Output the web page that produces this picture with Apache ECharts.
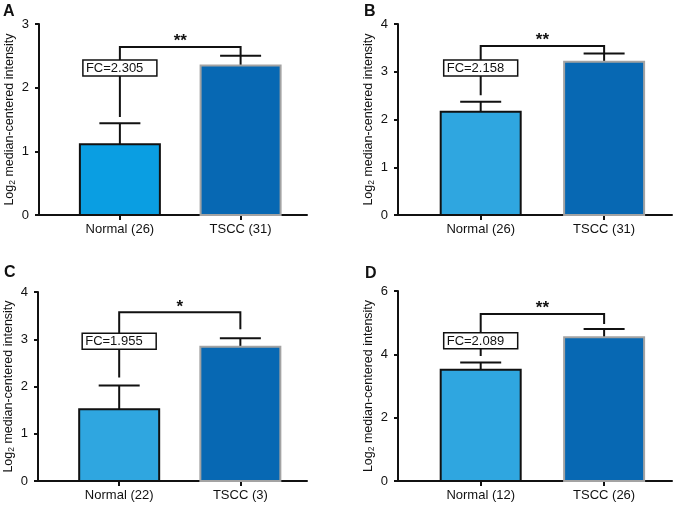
<!DOCTYPE html>
<html>
<head>
<meta charset="utf-8">
<script src="https://cdn.jsdelivr.net/npm/echarts@6/dist/echarts.min.js"></script>
<style>
  html, body { margin: 0; padding: 0; background: #fff; }
  #chart { width: 677px; height: 509px; }
</style>
</head>
<body>
<div id="chart"></div>
<script>
// data
const categories = ['Normal', 'TSCC']
const panelLetters = ['A', 'B', 'C', 'D']
const sampleSizes = [[26, 31], [26, 31], [22, 3], [12, 26]]
const meanValues = [[1.11, 2.35], [2.16, 3.21], [1.52, 2.84], [3.51, 4.54]]
const errorTops = [[1.44, 2.50], [2.37, 3.38], [2.02, 3.02], [3.74, 4.80]]
const bracketLevels = [2.64, 3.54, 3.57, 5.27]
const bracketLeftEnds = [1.54, 2.51, 2.19, 3.95]
const bracketRightEnds = [2.50, 3.38, 3.21, 4.96]
const fcLabels = ['FC=2.305', 'FC=2.158', 'FC=1.955', 'FC=2.089']
const fcLabelLevels = [2.31, 3.08, 2.96, 4.43]
const starLabels = ['**', '**', '*', '**']
const yMaxValues = [3, 4, 4, 6]
const yIntervals = [1, 1, 1, 2]

const FONT = 'Liberation Sans, Arial, sans-serif'
const grids = [
  { left : 39, top : 24, width : 268, height : 191 },
  { left : 398, top : 24, width : 274, height : 191 },
  { left : 38, top : 292, width : 269, height : 189 },
  { left : 398, top : 291, width : 274, height : 190 }
]
const letterPos = [[3, 4], [364, 4], [4, 265], [365, 266]]
const normalFill = ['#0a9ee2', '#2fa6e0', '#2fa6e0', '#2fa6e0']
const tsccFill = '#0768b3'

const chart = echarts.init( document.getElementById( 'chart' ), null, { renderer : 'canvas' } )

const makeBarRenderer = p => ( params, api ) => {
  const x = api.value( 0 )
  const base = api.coord( [x, 0] )
  const head = api.coord( [x, api.value( 1 )] )
  const errHead = api.coord( [x, api.value( 2 )] )
  const isNormal = params.dataIndex === 0
  return {
    type : 'group',
    children : [
      {
        type : 'line',
        shape : { x1 : head[0], y1 : head[1], x2 : errHead[0], y2 : errHead[1] },
        style : { stroke : '#111', lineWidth : 2 }
      },
      {
        type : 'line',
        shape : { x1 : errHead[0] - 20.5, y1 : errHead[1], x2 : errHead[0] + 20.5, y2 : errHead[1] },
        style : { stroke : '#111', lineWidth : 2 }
      },
      {
        type : 'rect',
        shape : { x : head[0] - 40, y : head[1], width : 80, height : base[1] - head[1] },
        style : {
          fill : isNormal ? normalFill[p] : tsccFill,
          stroke : isNormal ? '#111' : '#a3a3a3',
          lineWidth : 2
        }
      }
    ]
  }
}

const makeBracketRenderer = p => ( params, api ) => {
  const top = api.coord( [1, api.value( 0 )] )
  const topR = api.coord( [2, api.value( 0 )] )
  const leftEnd = api.coord( [1, api.value( 1 )] )
  const rightEnd = api.coord( [2, api.value( 2 )] )
  const fc = api.coord( [1, api.value( 3 )] )
  return {
    type : 'group',
    children : [
      {
        type : 'polyline',
        shape : { points : [[leftEnd[0], leftEnd[1]], [top[0], top[1]], [topR[0], topR[1]], [rightEnd[0], rightEnd[1]]] },
        style : { stroke : '#111', lineWidth : 2, fill : null }
      },
      {
        type : 'text',
        x : ( top[0] + topR[0] ) / 2,
        y : top[1] + 3,
        style : {
          text : starLabels[p],
          font : 'bold 17px ' + FONT,
          fill : '#111',
          align : 'center',
          verticalAlign : 'bottom'
        }
      },
      {
        type : 'rect',
        shape : { x : fc[0] - 37, y : fc[1] - 8, width : 74, height : 16 },
        style : { fill : '#fff', stroke : '#111', lineWidth : 1.5 }
      },
      {
        type : 'text',
        x : fc[0] - 34,
        y : fc[1] + 0.5,
        style : {
          text : fcLabels[p],
          font : '13px ' + FONT,
          fill : '#111',
          align : 'left',
          verticalAlign : 'middle'
        }
      }
    ]
  }
}

const xAxes = []
const yAxes = []
const series = []
grids.forEach( ( g, p ) => {
  xAxes.push( {
    type : 'value',
    gridIndex : p,
    min : 0.33,
    max : 2.55,
    splitLine : { show : false },
    axisLine : { onZero : false, lineStyle : { color : '#111', width : 2 } },
    axisTick : { customValues : [1, 2], length : 5, lineStyle : { color : '#111', width : 2 } },
    axisLabel : {
      customValues : [1, 2],
      margin : 8,
      color : '#111',
      fontSize : 13,
      fontFamily : FONT,
      formatter : v => categories[Math.round( v ) - 1] + ' (' + sampleSizes[p][Math.round( v ) - 1] + ')'
    }
  } )
  yAxes.push( {
    type : 'value',
    gridIndex : p,
    min : 0,
    max : yMaxValues[p],
    interval : yIntervals[p],
    splitLine : { show : false },
    axisLine : { show : true, lineStyle : { color : '#111', width : 2 } },
    axisTick : { show : true, length : 4, lineStyle : { color : '#111', width : 2 } },
    axisLabel : { margin : 10, color : '#111', fontSize : 13, fontFamily : FONT },
    name : '{t|Log}{s|2}{t| median-centered intensity}',
    nameLocation : 'middle',
    nameGap : 22,
    nameRotate : 90,
    nameTextStyle : {
      rich : {
        t : { fontSize : 12.5, fontFamily : FONT, color : '#111' },
        s : { fontSize : 8.5, fontFamily : FONT, color : '#111', padding : [6, 0, 0, 0] }
      }
    }
  } )
  series.push( {
    type : 'custom',
    xAxisIndex : p,
    yAxisIndex : p,
    renderItem : makeBarRenderer( p ),
    data : [[1, meanValues[p][0], errorTops[p][0]], [2, meanValues[p][1], errorTops[p][1]]],
    silent : true
  } )
  series.push( {
    type : 'custom',
    xAxisIndex : p,
    yAxisIndex : p,
    renderItem : makeBracketRenderer( p ),
    data : [[bracketLevels[p], bracketLeftEnds[p], bracketRightEnds[p], fcLabelLevels[p]]],
    silent : true,
    z : 3
  } )
} )

chart.setOption( {
  backgroundColor : '#fff',
  animation : false,
  grid : grids.map( g => ( { ...g, containLabel : false } ) ),
  xAxis : xAxes,
  yAxis : yAxes,
  series,
  graphic : panelLetters.map( ( l, i ) => ( {
    type : 'text',
    left : letterPos[i][0],
    top : letterPos[i][1],
    style : { text : l, font : 'bold 16px ' + FONT, fill : '#111' }
  } ) )
} )
</script>
</body>
</html>
